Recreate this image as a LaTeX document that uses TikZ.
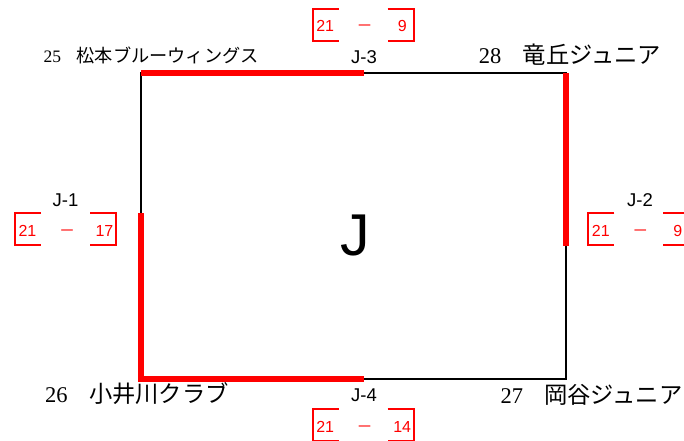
\documentclass[tikz,border=0pt]{standalone}
\usepackage{fontspec}
\setmainfont{Liberation Serif}
\newfontfamily\cjk{Noto Sans CJK JP}
\newfontfamily\sansf{Liberation Sans}
\definecolor{scorered}{RGB}{255,0,0}
\tikzset{
  blk/.style={draw=black, line width=2pt},
  rl/.style={draw=scorered, line width=6pt},
  brk/.style={draw=scorered, line width=2pt},
  bigname/.style={anchor=base west, inner sep=0pt, font=\fontsize{22.5}{22.5}\selectfont},
  smallname/.style={anchor=base west, inner sep=0pt, font=\fontsize{17.5}{17.5}\selectfont},
  jlabel/.style={anchor=base, inner sep=0pt, font=\sansf\fontsize{18.5}{18.5}\selectfont},
  scoretxt/.style={anchor=base, inner sep=0pt, text=scorered, font=\sansf\fontsize{16}{16}\selectfont},
  dashtxt/.style={anchor=base, inner sep=0pt, text=scorered, font=\cjk\fontsize{16}{16}\selectfont},
  pics/scoregrp/.style n args={2}{code={
    \draw[brk] (26,0) -- (0,0) -- (0,32) -- (26,32);
    \draw[brk] (75,0) -- (101,0) -- (101,32) -- (75,32);
    \node[scoretxt] (-l) at (12.5,22.7) {#1};
    \node[dashtxt] (-d) at (52,23.2) {－};
    \node[scoretxt] (-r) at (89.5,22.7) {#2};
  }}
}
\begin{document}
\begin{tikzpicture}[x=1pt,y=-1pt]
\useasboundingbox[fill=white] (0,0) rectangle (684,440);
% corners
\coordinate (tl) at (141,73);
\coordinate (tr) at (565.5,73);
\coordinate (bl) at (141,378.5);
\coordinate (br) at (565.5,378.5);
\coordinate (tm) at (363.5,73);
\coordinate (bm) at (363.5,378.5);
\coordinate (lm) at (141,213.3);
\coordinate (rm) at (565.5,245.7);
\draw[blk] (tl) rectangle (br);
\draw[rl] (tl) -- (tm);
\draw[rl] (tr) -- (rm);
\draw[rl] (lm) -- (bl) -- (bm);
% big J
\node[anchor=base west, inner sep=0pt, font=\sansf\fontsize{59}{59}\selectfont] (bigj) at (340,255.7) {J};
% team names
\node[smallname] (t25) at (43.3,62.7) {25\hspace{0.9em}{\cjk\fontsize{18.2}{18.2}\selectfont 松本ブルーウィングス}};
\node[bigname] (t28) at (478.7,63.3) {28\hspace{0.95em}{\cjk\fontsize{23.3}{23.3}\selectfont 竜丘ジュニア}};
\node[bigname] (t26) at (45,402.7) {26\hspace{0.95em}{\cjk\fontsize{23.3}{23.3}\selectfont 小井川クラブ}};
\node[bigname] (t27) at (500.3,403.3) {27\hspace{0.95em}{\cjk\fontsize{23.3}{23.3}\selectfont 岡谷ジュニア}};
% match labels
\node[jlabel] (j1) at (65.5,206) {J-1};
\node[jlabel] (j2) at (640,206.7) {J-2};
\node[jlabel] (j3) at (364,63.3) {J-3};
\node[jlabel] (j4) at (364,401.7) {J-4};
% scores
\pic (s3) at (312.7,8.5) {scoregrp={21}{9}};
\pic (s1) at (15,213.3) {scoregrp={21}{17}};
\pic (s2) at (588.3,213.3) {scoregrp={21}{9}};
\pic (s4) at (312.7,409.3) {scoregrp={21}{14}};
\end{tikzpicture}
\end{document}
